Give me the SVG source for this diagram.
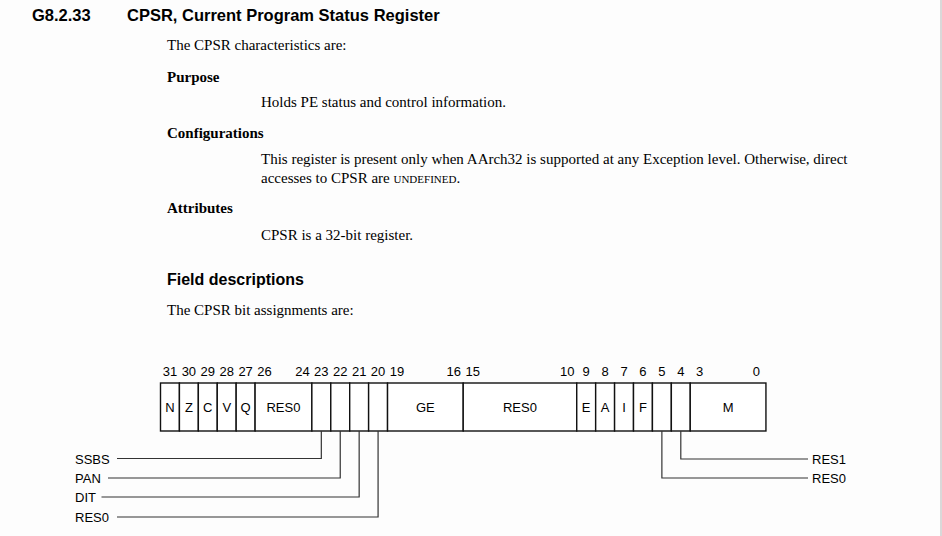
<svg xmlns="http://www.w3.org/2000/svg" width="942" height="536" viewBox="0 0 942 536">
<style>
.h{font-family:"Liberation Sans",Arial,sans-serif;font-weight:bold;font-size:16.5px;fill:#000}
.h2{font-family:"Liberation Sans",Arial,sans-serif;font-weight:bold;font-size:16px;fill:#000}
.b{font-family:"Liberation Serif","Times New Roman",serif;font-size:15px;fill:#000}
.bb{font-family:"Liberation Serif","Times New Roman",serif;font-size:15px;font-weight:bold;fill:#000}
.sc{font-size:11px}
.n{font-family:"Liberation Sans",Arial,sans-serif;font-size:13px;fill:#000;text-anchor:middle}
.l{font-family:"Liberation Sans",Arial,sans-serif;font-size:13px;fill:#000}
.f{fill:#fff;stroke:#111;stroke-width:1.4}
.c{fill:none;stroke:#333;stroke-width:1.2}
</style>
<rect width="942" height="536" fill="#fdfdfd"/>
<rect x="940" y="0" width="2" height="536" fill="#d9d9d9"/>
<g id="heading">
<text class="h" x="32" y="20.5">G8.2.33</text>
<text class="h" x="127" y="20.5">CPSR, Current Program Status Register</text>
<text class="b" x="167" y="50">The CPSR characteristics are:</text>
<text class="bb" x="167" y="82">Purpose</text>
<text class="b" x="261" y="107">Holds PE status and control information.</text>
<text class="bb" x="167" y="138">Configurations</text>
<text class="b" x="261" y="164">This register is present only when AArch32 is supported at any Exception level. Otherwise, direct</text>
<text class="b" x="261" y="183">accesses to CPSR are <tspan class="sc">UNDEFINED</tspan>.</text>
<text class="bb" x="167" y="213">Attributes</text>
<text class="b" x="261" y="240">CPSR is a 32-bit register.</text>
<text class="h2" x="167" y="285">Field descriptions</text>
<text class="b" x="167" y="315">The CPSR bit assignments are:</text>
</g>
<g id="bitnumbers">
<text class="n" x="169.96" y="376">31</text>
<text class="n" x="188.88" y="376">30</text>
<text class="n" x="207.8" y="376">29</text>
<text class="n" x="226.72" y="376">28</text>
<text class="n" x="245.64" y="376">27</text>
<text class="n" x="264.56" y="376">26</text>
<text class="n" x="302.4" y="376">24</text>
<text class="n" x="321.32" y="376">23</text>
<text class="n" x="340.24" y="376">22</text>
<text class="n" x="359.16" y="376">21</text>
<text class="n" x="378.08" y="376">20</text>
<text class="n" x="397" y="376">19</text>
<text class="n" x="453.76" y="376">16</text>
<text class="n" x="472.68" y="376">15</text>
<text class="n" x="567.28" y="376">10</text>
<text class="n" x="586.2" y="376">9</text>
<text class="n" x="605.12" y="376">8</text>
<text class="n" x="624.04" y="376">7</text>
<text class="n" x="642.96" y="376">6</text>
<text class="n" x="661.88" y="376">5</text>
<text class="n" x="680.8" y="376">4</text>
<text class="n" x="699.72" y="376">3</text>
<text class="n" x="756.48" y="376">0</text>
</g>
<g id="field-N"><rect class="f" x="160.5" y="383" width="18.92" height="48"/><text class="n" x="169.96" y="412">N</text></g>
<g id="field-Z"><rect class="f" x="179.42" y="383" width="18.92" height="48"/><text class="n" x="188.88" y="412">Z</text></g>
<g id="field-C"><rect class="f" x="198.34" y="383" width="18.92" height="48"/><text class="n" x="207.8" y="412">C</text></g>
<g id="field-V"><rect class="f" x="217.26" y="383" width="18.92" height="48"/><text class="n" x="226.72" y="412">V</text></g>
<g id="field-Q"><rect class="f" x="236.18" y="383" width="18.92" height="48"/><text class="n" x="245.64" y="412">Q</text></g>
<g id="field-RES0-26-24"><rect class="f" x="255.1" y="383" width="56.76" height="48"/><text class="n" x="283.48" y="412">RES0</text></g>
<g id="field-SSBS"><rect class="f" x="311.86" y="383" width="18.92" height="48"/></g>
<g id="field-PAN"><rect class="f" x="330.78" y="383" width="18.92" height="48"/></g>
<g id="field-DIT"><rect class="f" x="349.7" y="383" width="18.92" height="48"/></g>
<g id="field-RES0-20"><rect class="f" x="368.62" y="383" width="18.92" height="48"/></g>
<g id="field-GE"><rect class="f" x="387.54" y="383" width="75.68" height="48"/><text class="n" x="425.38" y="412">GE</text></g>
<g id="field-RES0-15-10"><rect class="f" x="463.22" y="383" width="113.52" height="48"/><text class="n" x="519.98" y="412">RES0</text></g>
<g id="field-E"><rect class="f" x="576.74" y="383" width="18.92" height="48"/><text class="n" x="586.2" y="412">E</text></g>
<g id="field-A"><rect class="f" x="595.66" y="383" width="18.92" height="48"/><text class="n" x="605.12" y="412">A</text></g>
<g id="field-I"><rect class="f" x="614.58" y="383" width="18.92" height="48"/><text class="n" x="624.04" y="412">I</text></g>
<g id="field-F"><rect class="f" x="633.5" y="383" width="18.92" height="48"/><text class="n" x="642.96" y="412">F</text></g>
<g id="field-RES0-5"><rect class="f" x="652.42" y="383" width="18.92" height="48"/></g>
<g id="field-RES1-4"><rect class="f" x="671.34" y="383" width="18.92" height="48"/></g>
<g id="field-M"><rect class="f" x="690.26" y="383" width="75.68" height="48"/><text class="n" x="728.1" y="412">M</text></g>
<g id="connectors">
<polyline class="c" points="321.32,431 321.32,458.5 117,458.5"/>
<polyline class="c" points="340.24,431 340.24,478 108,478"/>
<polyline class="c" points="359.16,431 359.16,497 101.5,497"/>
<polyline class="c" points="378.08,431 378.08,517 117,517"/>
<polyline class="c" points="680.8,431 680.8,459 808,459"/>
<polyline class="c" points="661.88,431 661.88,478 808,478"/>
</g>
<g id="label-SSBS"><text class="l" x="75" y="463.5">SSBS</text></g>
<g id="label-PAN"><text class="l" x="75" y="483">PAN</text></g>
<g id="label-DIT"><text class="l" x="75" y="502">DIT</text></g>
<g id="label-RES0-left"><text class="l" x="75" y="522">RES0</text></g>
<g id="label-RES1"><text class="l" x="812" y="464">RES1</text></g>
<g id="label-RES0-right"><text class="l" x="812" y="483">RES0</text></g>
</svg>
